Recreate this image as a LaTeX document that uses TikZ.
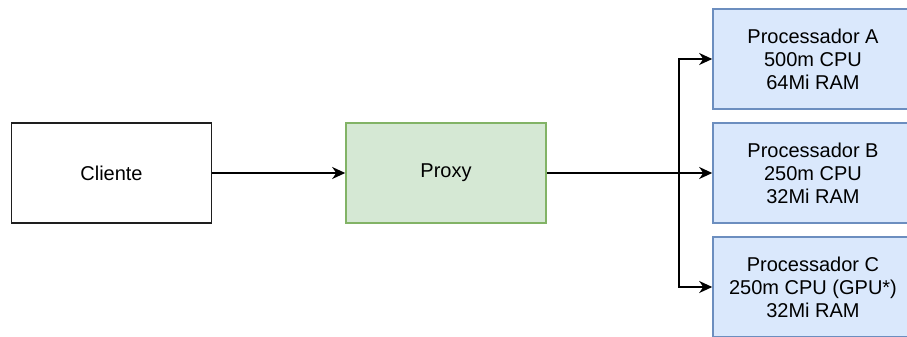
\documentclass[tikz,border=0pt]{standalone}
\usepackage{fontspec}
\setmainfont{Liberation Sans}
\usepackage{tikz}
\usetikzlibrary{positioning, arrows.meta}
\definecolor{proxyfill}{RGB}{213,232,212}
\definecolor{proxyline}{RGB}{130,179,102}
\definecolor{procfill}{RGB}{218,232,252}
\definecolor{procline}{RGB}{108,142,191}
\definecolor{boxline}{RGB}{30,30,30}

\begin{document}
\begin{tikzpicture}[x=1pt, y=-1pt, >={Stealth[length=13pt, width=12pt, inset=4pt]}, font=\fontsize{20}{23}\selectfont, line width=1.6pt]
    \useasboundingbox (0,0) rectangle (907,337);
    \clip (0,0) rectangle (907,337);

    % Client Box
    \node[draw=boxline, fill=white, minimum width=200pt, minimum height=100pt, align=center] (CL) at (111.5,173) {Cliente};

    % Proxy Box
    \node[draw=proxyline, fill=proxyfill, minimum width=200pt, minimum height=100pt, align=center] (PX) at (446,173) {Proxy};

    % Processor Boxes
    \node[draw=procline, fill=procfill, minimum width=200pt, minimum height=100pt, align=center] (PA) at (813,59) {Processador A\\500m CPU\\64Mi RAM};
    \node[draw=procline, fill=procfill, minimum width=200pt, minimum height=100pt, align=center] (PB) at (813,173) {Processador B\\250m CPU\\32Mi RAM};
    \node[draw=procline, fill=procfill, minimum width=200pt, minimum height=100pt, align=center] (PC) at (813,287) {Processador C\\250m CPU (GPU*)\\32Mi RAM};

    \coordinate (J) at (679,173);

    \draw[->] (CL) -- (PX);
    \draw[->] (PX) -- (PB);
    \draw[->] (J) |- (PA.west);
    \draw[->] (J) |- (PC.west);
\end{tikzpicture}
\end{document}
